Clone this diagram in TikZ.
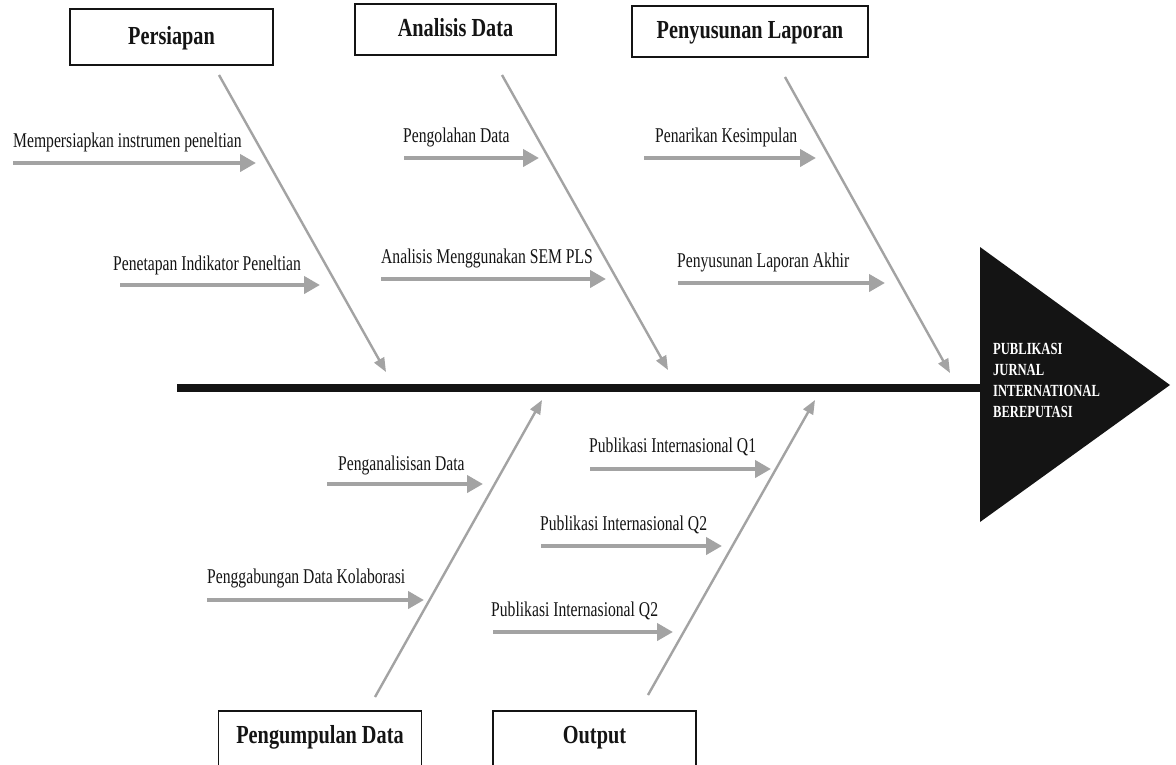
\documentclass[tikz,border=0pt]{standalone}
\usepackage{fontspec}
\usetikzlibrary{arrows.meta}
\newfontfamily\lblfont[FakeStretch=0.78]{Liberation Serif}
\newfontfamily\causefont[FakeStretch=0.745]{Liberation Serif}
\newfontfamily\goalfont[FakeStretch=0.74]{Liberation Serif}
\definecolor{bonegray}{HTML}{A3A3A3}
\definecolor{ink}{HTML}{141414}

\begin{document}
\begin{tikzpicture}[x=1pt,y=-1pt,
  catbox/.style={draw=ink, line width=1.3pt, inner sep=0pt, text=ink,
    font=\lblfont\bfseries\fontsize{26}{30}\selectfont,
    text height=17pt, text depth=3pt},
  lowbox/.style={catbox, text height=17pt, text depth=17pt},
  lbl/.style={inner sep=0pt, anchor=base west, text=ink,
    font=\causefont\fontsize{21}{25}\selectfont},
  subarrow/.style={draw=bonegray, line width=4.5pt,
    -{Triangle[length=16pt,width=17pt]}},
  bone/.style={draw=bonegray, line width=2.4pt,
    -{Triangle[length=14pt,width=11pt]}},
  spine/.style={draw=ink, line width=8pt}
]
% canvas
\clip (0,0) rectangle (1176,764);
\fill[white] (0,0) rectangle (1176,764);

% category boxes
\node[catbox, minimum width=203pt, minimum height=56pt] (persiapan) at (171.5,37) {Persiapan};
\node[catbox, minimum width=201pt, minimum height=51pt] (analisis) at (455.5,29.5) {Analisis Data};
\node[catbox, minimum width=236pt, minimum height=51pt] (laporan) at (750,31.5) {Penyusunan Laporan};
\node[lowbox, minimum width=203pt, minimum height=64pt] (pengumpulan) at (320,743) {Pengumpulan Data};
\node[lowbox, minimum width=203pt, minimum height=64pt] (output) at (594.5,743) {Output};

% head of the fish
\coordinate (headtop) at (980,247);
\coordinate (headtip) at (1170,385);
\coordinate (headbot) at (980,522);
\fill[ink] (headtop) -- (headtip) -- (headbot) -- cycle;
\node[inner sep=0pt, anchor=north west, text=white, align=left,
  font=\goalfont\bfseries\fontsize{17}{21}\selectfont] (goal) at (993,343)
  {PUBLIKASI\\JURNAL\\INTERNATIONAL\\BEREPUTASI};

% spine
\coordinate (tail) at (177,388);
\coordinate (neck) at (981,388);
\draw[spine] (tail) -- (neck);

% main bones
\coordinate (b1s) at (219,75);  \coordinate (b1e) at (386,372);
\coordinate (b2s) at (502,75);  \coordinate (b2e) at (668,370);
\coordinate (b3s) at (785,77);  \coordinate (b3e) at (950,373);
\coordinate (b4s) at (375,697); \coordinate (b4e) at (542,400);
\coordinate (b5s) at (648,695); \coordinate (b5e) at (815,400);
\draw[bone] (b1s) -- (b1e);
\draw[bone] (b2s) -- (b2e);
\draw[bone] (b3s) -- (b3e);
\draw[bone] (b4s) -- (b4e);
\draw[bone] (b5s) -- (b5e);

% causes: Persiapan
\node[lbl] (c1) at (13,147) {Mempersiapkan instrumen peneltian};
\coordinate (c1s) at (13,163);  \coordinate (c1e) at (256,163);
\draw[subarrow] (c1s) -- (c1e);
\node[lbl] (c2) at (113,270) {Penetapan Indikator Peneltian};
\coordinate (c2s) at (120,285); \coordinate (c2e) at (320,285);
\draw[subarrow] (c2s) -- (c2e);

% causes: Analisis Data
\node[lbl] (c3) at (403,142) {Pengolahan Data};
\coordinate (c3s) at (404,158); \coordinate (c3e) at (539,158);
\draw[subarrow] (c3s) -- (c3e);
\node[lbl] (c4) at (381,263) {Analisis Menggunakan SEM PLS};
\coordinate (c4s) at (381,279); \coordinate (c4e) at (606,279);
\draw[subarrow] (c4s) -- (c4e);

% causes: Penyusunan Laporan
\node[lbl] (c5) at (655,142) {Penarikan Kesimpulan};
\coordinate (c5s) at (644,158); \coordinate (c5e) at (816,158);
\draw[subarrow] (c5s) -- (c5e);
\node[lbl] (c6) at (677,267) {Penyusunan Laporan Akhir};
\coordinate (c6s) at (678,283); \coordinate (c6e) at (885,283);
\draw[subarrow] (c6s) -- (c6e);

% causes: Pengumpulan Data
\node[lbl] (c7) at (338,470) {Penganalisisan Data};
\coordinate (c7s) at (327,484); \coordinate (c7e) at (483,484);
\draw[subarrow] (c7s) -- (c7e);
\node[lbl] (c8) at (207,583) {Penggabungan Data Kolaborasi};
\coordinate (c8s) at (207,600); \coordinate (c8e) at (424,600);
\draw[subarrow] (c8s) -- (c8e);

% causes: Output
\node[lbl] (c9) at (589,452) {Publikasi Internasional Q1};
\coordinate (c9s) at (590,469); \coordinate (c9e) at (771,469);
\draw[subarrow] (c9s) -- (c9e);
\node[lbl] (c10) at (540,530) {Publikasi Internasional Q2};
\coordinate (c10s) at (541,546); \coordinate (c10e) at (722,546);
\draw[subarrow] (c10s) -- (c10e);
\node[lbl] (c11) at (491,616) {Publikasi Internasional Q2};
\coordinate (c11s) at (493,632); \coordinate (c11e) at (673,632);
\draw[subarrow] (c11s) -- (c11e);
\end{tikzpicture}
\end{document}
